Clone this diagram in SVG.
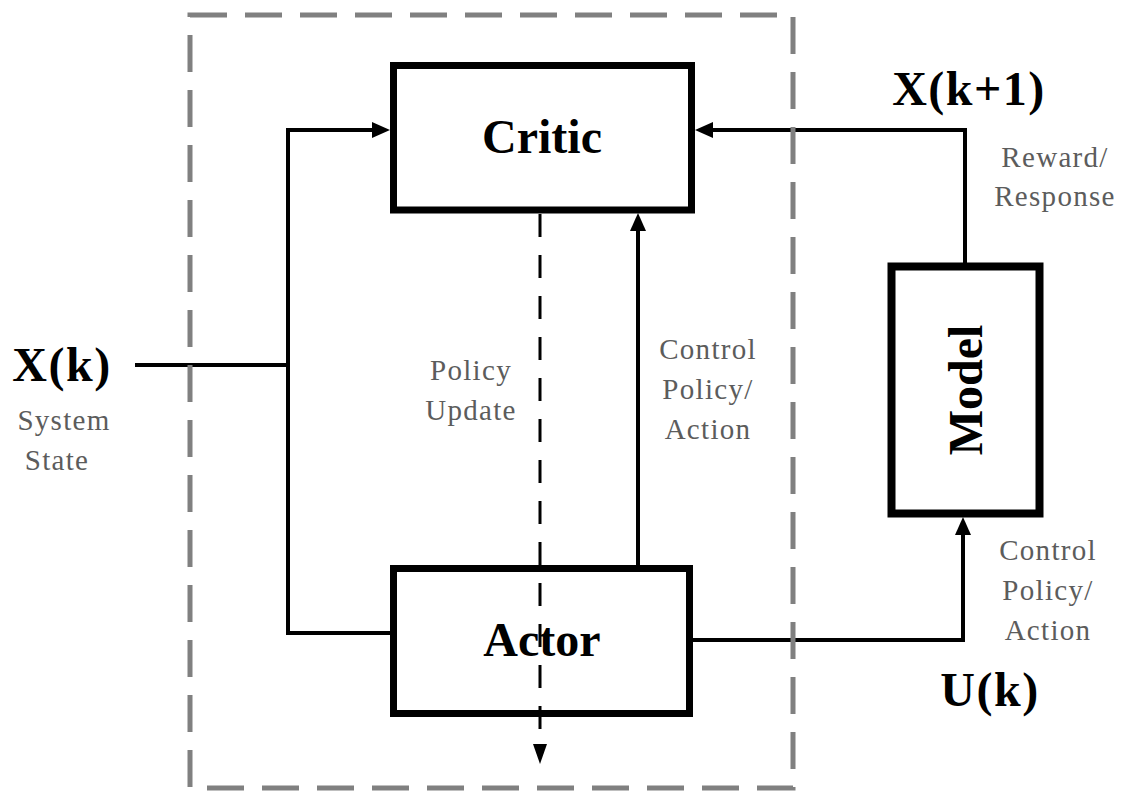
<svg xmlns="http://www.w3.org/2000/svg" width="1132" height="795" viewBox="0 0 1132 795">
  <defs>
    <style>
      .box { fill: #ffffff; stroke: #000000; stroke-width: 7; }
      .wire { fill: none; stroke: #000000; stroke-width: 4; }
      .dash { fill: none; stroke: #000000; stroke-width: 3; stroke-dasharray: 23 18; }
      .frame { fill: none; stroke: #808080; stroke-width: 5; stroke-dasharray: 37 18; }
      .title { font-family: "Liberation Serif", "Times New Roman", serif; font-weight: bold; font-size: 48px; fill: #000000; text-anchor: middle; }
      .sym { font-family: "Liberation Serif", "Times New Roman", serif; font-weight: bold; font-size: 48px; letter-spacing: 1.5px; fill: #000000; text-anchor: middle; }
      .note { font-family: "Liberation Serif", "Times New Roman", serif; font-size: 29px; letter-spacing: 1.3px; fill: #5c5c5c; text-anchor: middle; }
    </style>
    <marker id="arrow" viewBox="0 0 18 16" refX="4" refY="8" markerWidth="18" markerHeight="16" markerUnits="userSpaceOnUse" orient="auto">
      <path d="M0,0 L18,8 L0,16 Z" fill="#000000"/>
    </marker>
    <marker id="arrowSmall" viewBox="0 0 20 14" refX="2" refY="7" markerWidth="20" markerHeight="14" markerUnits="userSpaceOnUse" orient="auto">
      <path d="M0,0 L20,7 L0,14 Z" fill="#000000"/>
    </marker>
  </defs>

  <rect width="1132" height="795" fill="#ffffff"/>

  <g id="critic">
    <rect class="box" x="393.5" y="65.5" width="298" height="144.5"/>
    <text class="title" x="542" y="153">Critic</text>
  </g>

  <g id="actor">
    <rect class="box" x="393.5" y="568.5" width="296" height="145"/>
    <text class="title" x="542" y="656">Actor</text>
  </g>

  <g id="model">
    <rect class="box" x="891.5" y="266.5" width="148" height="247" style="stroke-width:8"/>
    <text class="title" x="0" y="0" transform="translate(982,390) rotate(-90)">Model</text>
  </g>

  <!-- connectors (the policy-update line runs across the actor block) -->
  <g id="connectors">
    <path class="wire" d="M135,365 H288"/>
    <path class="wire" d="M288,130 V633 H390"/>
    <path class="wire" d="M286,130 H376" marker-end="url(#arrow)"/>
    <path class="wire" d="M965,265 V130 H709" marker-end="url(#arrow)"/>
    <path class="wire" d="M693,640 H963 V531" marker-end="url(#arrow)"/>
    <path class="wire" d="M638,565 V227" marker-end="url(#arrow)"/>
    <path class="dash" d="M540,214 V746" marker-end="url(#arrowSmall)"/>
  </g>

  <!-- actor-critic boundary -->
  <rect id="boundary" class="frame" x="190" y="15" width="603" height="773"/>

  <!-- labels -->
  <g id="labels">
    <text class="sym" x="62" y="381">X(k)</text>
    <text class="note" x="64" y="430">System</text>
    <text class="note" x="57" y="470">State</text>

    <text class="sym" x="969" y="105">X(k+1)</text>
    <text class="note" x="1055" y="167">Reward/</text>
    <text class="note" x="1055" y="206">Response</text>

    <text class="note" x="471" y="380">Policy</text>
    <text class="note" x="471" y="420">Update</text>

    <text class="note" x="708" y="359">Control</text>
    <text class="note" x="708" y="399">Policy/</text>
    <text class="note" x="708" y="439">Action</text>

    <text class="note" x="1048" y="560">Control</text>
    <text class="note" x="1048" y="600">Policy/</text>
    <text class="note" x="1048" y="640">Action</text>

    <text class="sym" x="990" y="706">U(k)</text>
  </g>
</svg>
